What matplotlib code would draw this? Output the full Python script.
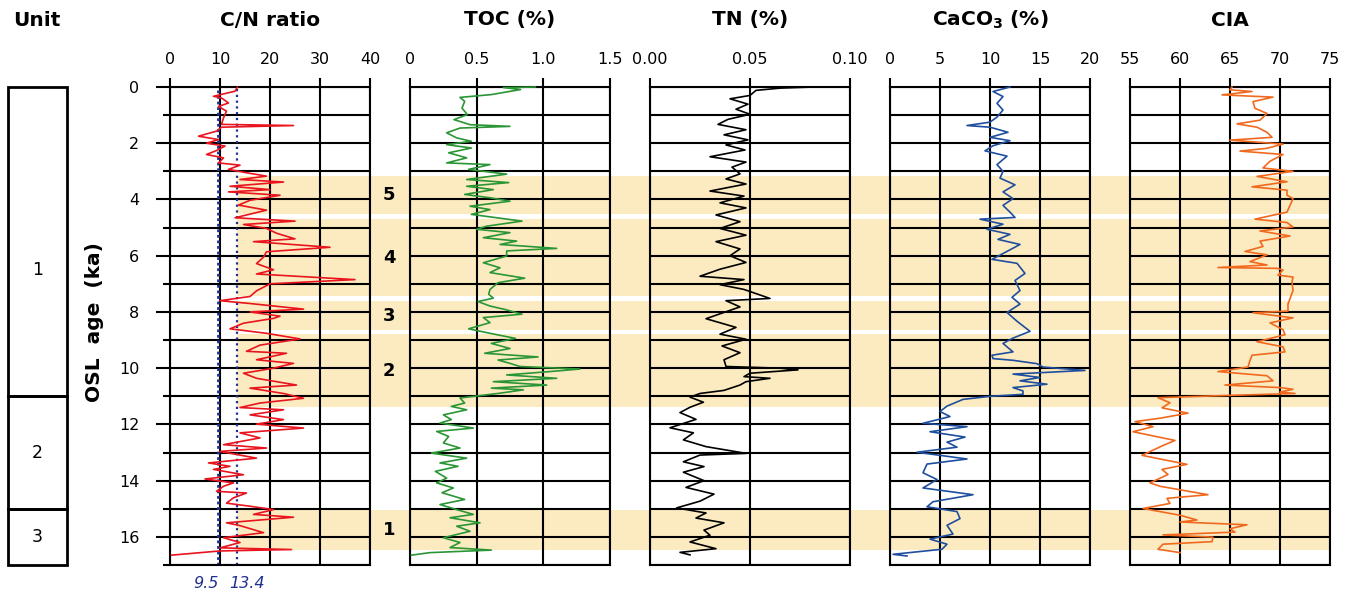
import matplotlib
matplotlib.use("Agg")
import matplotlib.pyplot as plt
from matplotlib.patches import Rectangle
from matplotlib.ticker import MultipleLocator

plt.rcParams['font.family'] = ['DejaVu Sans']

W, H = 1352, 595
TOP, BOT = 87, 565          # pixel rows of 0 ka and 17 ka
AGE_MAX = 17

# ---------------- data (age in ka, value) ----------------
cn_age = [0.0, 0.15, 0.33, 0.39, 0.57, 0.69, 0.86, 1.1, 1.33, 1.37, 1.43, 1.57, 1.75, 1.87, 2.0, 2.1,
          2.26, 2.4, 2.52, 2.7, 2.78, 2.93, 3.05, 3.17, 3.29, 3.38, 3.53, 3.65, 3.73, 3.85, 4.03, 4.2,
          4.38, 4.65, 4.77, 4.89, 5.03, 5.2, 5.4, 5.5, 5.7, 5.86, 6.05, 6.28, 6.5, 6.65, 6.85, 7.0,
          7.25, 7.45, 7.6, 7.7, 7.9, 8.0, 8.15, 8.23, 8.4, 8.6, 8.76, 8.96, 9.18, 9.4, 9.47, 9.7,
          9.83, 10.0, 10.18, 10.36, 10.6, 10.71, 10.9, 11.07, 11.24, 11.4, 11.48, 11.66, 11.83, 11.99,
          12.13, 12.3, 12.48, 12.72, 12.84, 12.96, 13.2, 13.37, 13.49, 13.6, 13.79, 13.94, 14.08, 14.2,
          14.38, 14.44, 14.61, 14.8, 14.91, 15.03, 15.2, 15.3, 15.5, 15.6, 15.85, 16.03, 16.2, 16.39,
          16.45, 16.5, 16.65]
cn_val = [13.5, 13.0, 8.7, 10.3, 11.7, 9.7, 11.3, 10.7, 10.3, 24.7, 10.3, 9.3, 5.7, 9.7, 7.3, 11.0,
          9.3, 7.3, 10.7, 9.7, 14.0, 11.7, 15.3, 19.3, 14.0, 22.7, 12.0, 20.0, 11.7, 22.0, 16.0, 13.7,
          19.3, 13.0, 25.0, 14.7, 19.3, 21.3, 25.0, 16.7, 32.0, 19.3, 18.7, 17.3, 20.7, 17.3, 37.0, 20.0,
          17.3, 16.0, 10.0, 16.0, 26.7, 16.0, 22.0, 20.7, 14.7, 12.0, 19.3, 26.0, 18.0, 15.3, 23.3, 17.3,
          24.7, 20.7, 14.7, 17.3, 25.3, 16.0, 22.7, 26.7, 18.0, 14.0, 22.7, 16.0, 22.7, 17.3,
          26.7, 14.0, 18.0, 10.7, 19.3, 10.0, 17.3, 7.7, 12.0, 8.7, 14.7, 7.0, 12.7, 10.7,
          9.3, 15.3, 12.7, 11.3, 16.0, 20.7, 16.7, 24.7, 11.3, 14.0, 18.7, 10.7, 14.0, 10.0,
          24.3, 10.0, 0.3]

toc_age = [0.0, 0.02, 0.09, 0.27, 0.37, 0.51, 0.75, 0.98, 1.16, 1.34, 1.4, 1.46, 1.63, 1.81, 1.93, 2.05,
           2.17, 2.34, 2.52, 2.7, 2.76, 2.93, 3.1, 3.29, 3.4, 3.53, 3.65, 3.82, 3.94, 4.06, 4.24, 4.36,
           4.53, 4.65, 4.77, 4.95, 5.06, 5.18, 5.36, 5.48, 5.6, 5.74, 5.83, 6.01, 6.25, 6.43, 6.6, 6.8,
           6.96, 7.2, 7.37, 7.51, 7.63, 7.79, 7.91, 8.08, 8.2, 8.38, 8.6, 8.76, 8.94, 9.12, 9.3, 9.47,
           9.6, 9.71, 9.83, 9.94, 10.03, 10.12, 10.24, 10.36, 10.48, 10.6, 10.71, 10.77, 10.89, 11.06,
           11.24, 11.36, 11.48, 11.66, 11.83, 11.95, 12.13, 12.25, 12.43, 12.66, 12.84, 13.02, 13.2,
           13.37, 13.49, 13.67, 13.91, 14.08, 14.26, 14.43, 14.67, 14.85, 15.03, 15.2, 15.32, 15.5,
           15.62, 15.8, 16.03, 16.2, 16.38, 16.47, 16.56, 16.65]
toc_val = [0.94, 0.70, 0.83, 0.61, 0.375, 0.41, 0.39, 0.43, 0.33, 0.45, 0.75, 0.375, 0.275, 0.35, 0.46, 0.275,
           0.46, 0.29, 0.425, 0.275, 0.60, 0.44, 0.725, 0.425, 0.74, 0.425, 0.625, 0.41, 0.60, 0.75, 0.45, 0.60,
           0.46, 0.65, 0.84, 0.575, 0.50, 0.75, 0.55, 0.80, 0.675, 1.10, 0.725, 0.725, 0.55, 0.675, 0.60, 0.86,
           0.66, 0.60, 0.59, 0.625, 0.51, 0.60, 0.71, 0.84, 0.55, 0.60, 0.44, 0.60, 0.79, 0.61, 0.75, 0.56,
           0.96, 0.66, 0.75, 0.825, 1.275, 1.05, 0.725, 1.10, 0.625, 1.025, 0.61, 0.85, 0.675, 0.375,
           0.41, 0.31, 0.425, 0.25, 0.31, 0.225, 0.475, 0.20, 0.29, 0.25, 0.375, 0.16, 0.425,
           0.225, 0.36, 0.19, 0.275, 0.20, 0.325, 0.24, 0.41, 0.225, 0.35, 0.475, 0.30, 0.525,
           0.35, 0.45, 0.25, 0.375, 0.30, 0.61, 0.15, 0.01]

tn_age = [0.0, 0.04, 0.12, 0.3, 0.42, 0.61, 0.79, 0.97, 1.15, 1.33, 1.52, 1.7, 1.88, 2.06, 2.24, 2.48,
          2.67, 2.85, 3.09, 3.27, 3.45, 3.7, 3.88, 4.12, 4.3, 4.55, 4.79, 5.03, 5.27, 5.5, 5.76, 6.0,
          6.24, 6.48, 6.73, 6.85, 7.03, 7.2, 7.52, 7.6, 7.82, 8.24, 8.55, 8.79, 8.97, 9.21, 9.45, 9.7,
          9.94, 10.0, 10.06, 10.18, 10.3, 10.36, 10.48, 10.6, 10.79, 10.9, 11.03, 11.21, 11.39, 11.58,
          11.82, 12.12, 12.3, 12.55, 12.79, 13.03, 13.09, 13.33, 13.5, 13.7, 14.0, 14.24, 14.48, 14.73,
          14.97, 15.15, 15.33, 15.5, 15.76, 15.94, 16.18, 16.42, 16.55, 16.64]
tn_val = [0.0817, 0.065, 0.053, 0.050, 0.040, 0.049, 0.043, 0.050, 0.039, 0.034, 0.048, 0.037, 0.049, 0.038, 0.0475, 0.030,
          0.048, 0.041, 0.045, 0.038, 0.048, 0.030, 0.047, 0.035, 0.048, 0.033, 0.045, 0.035, 0.048, 0.033, 0.045, 0.040,
          0.048, 0.035, 0.025, 0.047, 0.035, 0.047, 0.060, 0.038, 0.045, 0.028, 0.043, 0.035, 0.048, 0.036, 0.045, 0.037,
          0.038, 0.065, 0.074, 0.050, 0.047, 0.060, 0.048, 0.045, 0.037, 0.025, 0.020, 0.0267, 0.020, 0.015,
          0.023, 0.010, 0.0217, 0.0167, 0.028, 0.048, 0.025, 0.0167, 0.027, 0.0167, 0.027, 0.018, 0.032, 0.025,
          0.0133, 0.028, 0.023, 0.037, 0.027, 0.030, 0.020, 0.033, 0.015, 0.020]

caco3_age = [0.0, 0.16, 0.34, 0.58, 0.82, 1.07, 1.25, 1.37, 1.43, 1.61, 1.79, 1.91, 2.09, 2.27, 2.46, 2.76,
             3.0, 3.24, 3.48, 3.73, 3.97, 4.21, 4.45, 4.64, 4.7, 4.88, 5.06, 5.24, 5.42, 5.6, 5.79, 6.13,
             6.27, 6.63, 6.88, 7.24, 7.48, 7.72, 8.02, 8.33, 8.69, 8.93, 9.12, 9.42, 9.54, 9.66, 9.72, 9.84,
             9.96, 10.08, 10.21, 10.33, 10.45, 10.57, 10.69, 10.81, 10.93, 11.0, 11.11, 11.35, 11.54, 11.72,
             11.96, 12.08, 12.26, 12.45, 12.63, 12.81, 12.99, 13.23, 13.41, 13.72, 13.96, 14.26, 14.5, 14.75,
             14.93, 15.1, 15.35, 15.59, 15.9, 16.08, 16.26, 16.44, 16.62, 16.68]
caco3_val = [12.0, 10.3, 11.3, 10.7, 11.3, 10.7, 10.0, 7.7, 10.0, 11.8, 10.0, 12.0, 10.3, 9.5, 11.7, 10.7,
             11.3, 11.0, 12.5, 11.3, 12.3, 11.3, 12.0, 12.5, 9.0, 11.3, 9.7, 12.0, 10.8, 13.0, 12.0, 10.2,
             12.7, 13.5, 12.5, 13.0, 12.2, 13.0, 11.7, 12.7, 14.0, 12.3, 11.3, 12.3, 10.2, 10.3, 12.3, 14.7,
             15.3, 19.5, 12.3, 15.0, 13.0, 15.7, 12.3, 13.3, 13.3, 10.0, 7.3, 5.7, 5.0, 6.0,
             3.3, 7.7, 4.0, 7.5, 5.7, 6.7, 2.7, 7.7, 3.7, 3.3, 4.7, 3.3, 8.3, 4.3,
             3.7, 6.7, 7.0, 5.7, 6.3, 4.0, 5.7, 5.2, 0.3, 1.7]

cia_age = [0.0, 0.1, 0.16, 0.28, 0.36, 0.52, 0.76, 0.94, 1.18, 1.31, 1.43, 1.61, 1.79, 1.89, 2.03, 2.18,
           2.28, 2.4, 2.64, 2.88, 3.0, 3.18, 3.37, 3.55, 3.67, 3.85, 3.97, 4.21, 4.45, 4.7, 4.82, 4.98,
           5.12, 5.3, 5.48, 5.67, 5.85, 5.97, 6.21, 6.33, 6.42, 6.45, 6.51, 6.69, 6.76, 6.94, 7.24, 7.72,
           7.97, 8.03, 8.21, 8.39, 8.63, 8.81, 9.06, 9.24, 9.42, 9.54, 9.72, 9.96, 10.12, 10.27, 10.45,
           10.6, 10.69, 10.75, 10.85, 10.9, 10.97, 11.05, 11.23, 11.41, 11.6, 11.78, 11.9, 12.08, 12.26,
           12.57, 12.75, 13.1, 13.3, 13.42, 13.6, 13.78, 14.08, 14.2, 14.5, 14.63, 14.81, 14.99, 15.23,
           15.4, 15.47, 15.57, 15.71, 15.83, 15.93, 16.01, 16.17, 16.26, 16.44, 16.56]
cia_val = [65.2, 65.0, 67.2, 64.2, 69.3, 67.3, 67.5, 68.7, 68.0, 65.7, 67.7, 68.7, 69.2, 65.0, 70.3, 68.7,
           66.0, 70.3, 69.0, 68.3, 71.3, 67.7, 70.7, 67.2, 70.7, 70.7, 71.3, 71.0, 70.7, 67.5, 70.7, 71.3,
           68.0, 71.0, 68.0, 68.3, 66.5, 68.7, 67.0, 68.7, 63.8, 69.7, 70.3, 69.8, 71.3, 71.2, 71.3, 70.8,
           70.8, 67.3, 71.3, 69.0, 70.3, 70.5, 67.7, 70.3, 70.5, 67.2, 67.0, 66.8, 63.8, 68.7, 69.3,
           64.5, 70.0, 71.3, 70.0, 71.5, 64.7, 57.8, 59.0, 58.2, 60.8, 58.0, 55.5, 57.3, 55.3,
           59.5, 58.3, 56.2, 59.0, 60.7, 58.2, 58.8, 57.0, 58.0, 62.8, 58.7, 59.0, 56.3, 60.0,
           61.7, 60.0, 66.7, 65.0, 65.5, 58.3, 63.3, 63.2, 58.3, 57.8, 60.0]

# shaded intervals (ka) and their numbers
band_top = [15.03, 8.8, 7.62, 4.68, 3.16]
band_bot = [16.45, 11.38, 8.65, 7.45, 4.5]
band_names = ['1', '2', '3', '4', '5']

# stratigraphic units
unit_top = [0, 11, 15]
unit_bot = [11, 15, 17]
unit_names = ['1', '2', '3']
unit_label_age = [6.5, 13, 16]

cn_lines = [9.5, 13.4]

panels = [
    ('C/N ratio', cn_age, cn_val, (0, 40), [0, 10, 20, 30, 40], ['0', '10', '20', '30', '40'], '#e8141e', 170),
    ('TOC (%)', toc_age, toc_val, (0, 1.5), [0, 0.5, 1.0, 1.5], ['0', '0.5', '1.0', '1.5'], '#2a9535', 410),
    ('TN (%)', tn_age, tn_val, (0, 0.1), [0, 0.05, 0.1], ['0.00', '0.05', '0.10'], 'black', 650),
    (r'CaCO$_\mathbf{3}$ (%)', caco3_age, caco3_val, (0, 20), [0, 5, 10, 15, 20],
     ['0', '5', '10', '15', '20'], '#1f4e9e', 890),
    ('CIA', cia_age, cia_val, (55, 75), [55, 60, 65, 70, 75], ['55', '60', '65', '70', '75'], '#f0691e', 1130),
]
PANEL_W = 200

BAND_COLOR = '#fcebc0'
NAVY = '#1f2f8f'


def rect(x0, x1):
    return [x0 / W, 1 - BOT / H, (x1 - x0) / W, (BOT - TOP) / H]


fig = plt.figure(figsize=(W / 100, H / 100), dpi=100)

# background axis carrying the shaded intervals (x in C/N units)
cn_lo, cn_hi = panels[0][3]
right_px = panels[-1][7] + PANEL_W
bg = fig.add_axes(rect(170, right_px))
bg_xmax = cn_lo + (right_px - 170) / PANEL_W * (cn_hi - cn_lo)
bg.set_xlim(cn_lo, bg_xmax)
bg.set_ylim(AGE_MAX, 0)
bg.axis('off')
label_x = cn_lo + (389 - 170) / PANEL_W * (cn_hi - cn_lo)
for t, b, name in zip(band_top, band_bot, band_names):
    bg.fill_betweenx([t, b], cn_lines[1], bg_xmax, color=BAND_COLOR, lw=0, zorder=0)
    bg.text(label_x, (t + b) / 2, name, ha='center', va='center', fontsize=13, fontweight='bold')

# data panels
for i, (title, age, val, xlim, xt, xtl, color, x0) in enumerate(panels):
    ax = fig.add_axes(rect(x0, x0 + PANEL_W))
    ax.patch.set_alpha(0)
    ax.set_xlim(*xlim)
    ax.set_ylim(AGE_MAX, 0)
    ax.xaxis.tick_top()
    ax.set_xticks(xt)
    ax.set_xticklabels(xtl)
    ax.tick_params(axis='x', length=6.5, width=1.5, pad=8, labelsize=11.5)
    ax.yaxis.set_major_locator(MultipleLocator(2))
    ax.yaxis.set_minor_locator(MultipleLocator(1))
    ax.grid(True, which='both', color='black', lw=1.5, zorder=1)
    ax.set_axisbelow(True)
    for s in ax.spines.values():
        s.set_linewidth(1.5)
    if i == 0:
        ax.tick_params(axis='y', which='major', length=10, width=1.5, pad=12, labelsize=11.5)
        ax.tick_params(axis='y', which='minor', length=5, width=1.5)
        for xv, lw, ls in zip(cn_lines, [2.0, 1.6], [(0, (1, 1)), (0, (1, 1.6))]):
            ax.axvline(xv, color=NAVY, lw=lw, ls=ls, zorder=2)
        ax.text(cn_lines[0] + 0.2, AGE_MAX + 0.65, '9.5', ha='right', va='center',
                style='italic', color=NAVY, fontsize=11.5, clip_on=False)
        ax.text(cn_lines[1] - 1.6, AGE_MAX + 0.65, '13.4', ha='left', va='center',
                style='italic', color=NAVY, fontsize=11.5, clip_on=False)
    else:
        ax.tick_params(axis='y', which='both', length=0, labelleft=False)
    ax.plot(val, age, color=color, lw=1.2, zorder=3, clip_on=False)
    fig.text((x0 + PANEL_W / 2) / W, 1 - 20 / H, title, ha='center', va='center',
             fontsize=14.5, fontweight='bold')

# unit column
ua = fig.add_axes(rect(8, 67))
ua.set_xlim(0, 1)
ua.set_ylim(AGE_MAX, 0)
ua.axis('off')
for t, b, name, la in zip(unit_top, unit_bot, unit_names, unit_label_age):
    ua.add_patch(Rectangle((0, t), 1, b - t, fill=False, ec='black', lw=2, clip_on=False))
    ua.text(0.5, la, name, ha='center', va='center', fontsize=12.5)
fig.text(37 / W, 1 - 20 / H, 'Unit', ha='center', va='center', fontsize=14.5, fontweight='bold')

fig.text(95 / W, 1 - 322 / H, 'OSL  age  (ka)', rotation=90, ha='center', va='center',
         fontsize=14.5, fontweight='bold')

fig.savefig('out.png', dpi=100)
